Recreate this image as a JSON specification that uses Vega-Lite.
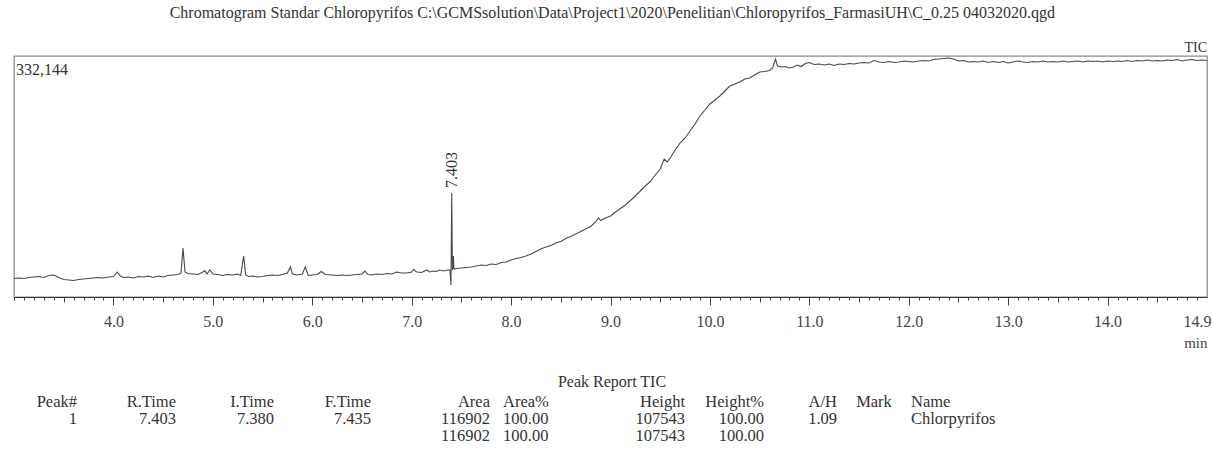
{
  "$schema": "https://vega.github.io/schema/vega-lite/v6.json",
  "background": "white",
  "padding": {"left": 12, "top": 5, "right": 4, "bottom": 4},
  "config": {
    "font": "Liberation Serif",
    "text": {"font": "Liberation Serif", "color": "#333"},
    "title": {"font": "Liberation Serif", "fontWeight": "normal", "color": "#333"}
  },
  "title": {
    "text": "Chromatogram Standar Chloropyrifos C:\\GCMSsolution\\Data\\Project1\\2020\\Penelitian\\Chloropyrifos_FarmasiUH\\C_0.25 04032020.qgd",
    "anchor": "middle", "fontSize": 16, "fontWeight": "normal", "font": "Liberation Serif", "color": "#333", "offset": 19
  },
  "datasets": {
    "chromatogram": [
      {"t":3.00,"v":14529},{"t":3.05,"v":15246},{"t":3.10,"v":14529},{"t":3.15,"v":15963},{"t":3.20,"v":16680},{"t":3.25,"v":17397},{"t":3.30,"v":15963},{"t":3.35,"v":18831},{"t":3.40,"v":19548},{"t":3.45,"v":15963},{"t":3.50,"v":13095},{"t":3.55,"v":12378},{"t":3.60,"v":11661},{"t":3.65,"v":13095},{"t":3.70,"v":13812},{"t":3.75,"v":14529},{"t":3.80,"v":15246},{"t":3.85,"v":15963},{"t":3.90,"v":15246},{"t":3.95,"v":16680},
      {"t":4.00,"v":17397},{"t":4.04,"v":23850},{"t":4.07,"v":18114},{"t":4.10,"v":15963},{"t":4.15,"v":16680},{"t":4.20,"v":15246},{"t":4.25,"v":17397},{"t":4.30,"v":16680},{"t":4.35,"v":18114},{"t":4.40,"v":15963},{"t":4.45,"v":18114},{"t":4.50,"v":16680},{"t":4.55,"v":18831},{"t":4.60,"v":19548},{"t":4.65,"v":20265},{"t":4.68,"v":22416},{"t":4.70,"v":58266},{"t":4.72,"v":23850},{"t":4.75,"v":21699},{"t":4.80,"v":20982},{"t":4.85,"v":20265},{"t":4.90,"v":23850},{"t":4.92,"v":26001},{"t":4.94,"v":20982},{"t":4.97,"v":26718},
      {"t":5.00,"v":20982},{"t":5.05,"v":20265},{"t":5.10,"v":18831},{"t":5.15,"v":20265},{"t":5.20,"v":19548},{"t":5.25,"v":20982},{"t":5.28,"v":18831},{"t":5.31,"v":46794},{"t":5.33,"v":19548},{"t":5.36,"v":17397},{"t":5.40,"v":18114},{"t":5.45,"v":16680},{"t":5.50,"v":17397},{"t":5.55,"v":18831},{"t":5.60,"v":19548},{"t":5.65,"v":18831},{"t":5.70,"v":20265},{"t":5.75,"v":22416},{"t":5.78,"v":31020},{"t":5.80,"v":20982},{"t":5.85,"v":19548},{"t":5.90,"v":20982},{"t":5.93,"v":31020},{"t":5.96,"v":18831},
      {"t":6.00,"v":19548},{"t":6.05,"v":20265},{"t":6.09,"v":24567},{"t":6.13,"v":20265},{"t":6.20,"v":19548},{"t":6.25,"v":18831},{"t":6.30,"v":19548},{"t":6.35,"v":18831},{"t":6.40,"v":19548},{"t":6.45,"v":20265},{"t":6.50,"v":20982},{"t":6.53,"v":25284},{"t":6.56,"v":20265},{"t":6.60,"v":19548},{"t":6.65,"v":20982},{"t":6.70,"v":20265},{"t":6.75,"v":21699},{"t":6.80,"v":20982},{"t":6.85,"v":23850},{"t":6.90,"v":22416},{"t":6.95,"v":22416},
      {"t":7.00,"v":23850},{"t":7.02,"v":27435},{"t":7.05,"v":23850},{"t":7.10,"v":23133},{"t":7.15,"v":26718},{"t":7.18,"v":23850},{"t":7.22,"v":25284},{"t":7.25,"v":24567},{"t":7.28,"v":26718},{"t":7.32,"v":25284},{"t":7.36,"v":26718},{"t":7.385,"v":26718},{"t":7.395,"v":5208},{"t":7.400,"v":84078},{"t":7.403,"v":137136},{"t":7.407,"v":69738},{"t":7.410,"v":26718},{"t":7.415,"v":29586},{"t":7.420,"v":46794},{"t":7.425,"v":29586},{"t":7.43,"v":28152},{"t":7.45,"v":28869},
      {"t":7.50,"v":29586},{"t":7.55,"v":30303},{"t":7.60,"v":31020},{"t":7.65,"v":32454},{"t":7.70,"v":33888},{"t":7.75,"v":33171},{"t":7.80,"v":35322},{"t":7.85,"v":34605},{"t":7.90,"v":37473},{"t":7.95,"v":38190},
      {"t":8.00,"v":41058},{"t":8.05,"v":43209},{"t":8.10,"v":44643},{"t":8.15,"v":46794},{"t":8.20,"v":49662},{"t":8.25,"v":53247},{"t":8.30,"v":56832},{"t":8.35,"v":59700},{"t":8.40,"v":61851},{"t":8.45,"v":65436},{"t":8.50,"v":67587},{"t":8.55,"v":71889},{"t":8.60,"v":74757},{"t":8.65,"v":78342},{"t":8.70,"v":81927},{"t":8.75,"v":85512},{"t":8.80,"v":89097},{"t":8.85,"v":95550},{"t":8.88,"v":101286},{"t":8.90,"v":97701},{"t":8.95,"v":101286},
      {"t":9.00,"v":104154},{"t":9.05,"v":109890},{"t":9.10,"v":114909},{"t":9.15,"v":119928},{"t":9.20,"v":126381},{"t":9.25,"v":132834},{"t":9.30,"v":140004},{"t":9.35,"v":147174},{"t":9.40,"v":153627},{"t":9.45,"v":162948},{"t":9.50,"v":171552},{"t":9.54,"v":185892},{"t":9.57,"v":181590},{"t":9.60,"v":187326},{"t":9.65,"v":198798},{"t":9.70,"v":208836},{"t":9.75,"v":216006},{"t":9.80,"v":226044},{"t":9.85,"v":236082},{"t":9.90,"v":247554},{"t":9.95,"v":256158},
      {"t":10.00,"v":264762},{"t":10.05,"v":270498},{"t":10.10,"v":276234},{"t":10.15,"v":283404},{"t":10.20,"v":290574},{"t":10.25,"v":293442},{"t":10.30,"v":296310},{"t":10.35,"v":300612},{"t":10.40,"v":302046},{"t":10.45,"v":306348},{"t":10.50,"v":310650},{"t":10.55,"v":311367},{"t":10.60,"v":312801},{"t":10.63,"v":316386},{"t":10.66,"v":329292},{"t":10.68,"v":319254},{"t":10.72,"v":317820},{"t":10.76,"v":318537},{"t":10.80,"v":316386},{"t":10.84,"v":317820},{"t":10.88,"v":320688},{"t":10.92,"v":318537},{"t":10.96,"v":322839},
      {"t":11.00,"v":324273},{"t":11.05,"v":321405},{"t":11.10,"v":322122},{"t":11.15,"v":320688},{"t":11.20,"v":322122},{"t":11.25,"v":319971},{"t":11.30,"v":322122},{"t":11.35,"v":321405},{"t":11.40,"v":322839},{"t":11.45,"v":322122},{"t":11.50,"v":323556},{"t":11.55,"v":324273},{"t":11.60,"v":323556},{"t":11.65,"v":327141},{"t":11.70,"v":324990},{"t":11.75,"v":324273},{"t":11.80,"v":325707},{"t":11.85,"v":324273},{"t":11.90,"v":324990},{"t":11.95,"v":326424},
      {"t":12.00,"v":325707},{"t":12.05,"v":324990},{"t":12.10,"v":326424},{"t":12.15,"v":327141},{"t":12.20,"v":326424},{"t":12.25,"v":328575},{"t":12.30,"v":329292},{"t":12.35,"v":330009},{"t":12.40,"v":330726},{"t":12.45,"v":329292},{"t":12.50,"v":326424},{"t":12.55,"v":327141},{"t":12.60,"v":324990},{"t":12.65,"v":325707},{"t":12.70,"v":324990},{"t":12.75,"v":326424},{"t":12.80,"v":324273},{"t":12.85,"v":325707},{"t":12.90,"v":324273},{"t":12.95,"v":325707},
      {"t":13.00,"v":323556},{"t":13.05,"v":324990},{"t":13.10,"v":326424},{"t":13.15,"v":324990},{"t":13.20,"v":324273},{"t":13.25,"v":325707},{"t":13.30,"v":324990},{"t":13.35,"v":326424},{"t":13.40,"v":324990},{"t":13.45,"v":325707},{"t":13.50,"v":324990},{"t":13.55,"v":326424},{"t":13.60,"v":324990},{"t":13.65,"v":325707},{"t":13.70,"v":326424},{"t":13.75,"v":324990},{"t":13.80,"v":326424},{"t":13.85,"v":325707},{"t":13.90,"v":326424},{"t":13.95,"v":324990},
      {"t":14.00,"v":326424},{"t":14.05,"v":325707},{"t":14.10,"v":326424},{"t":14.15,"v":325707},{"t":14.20,"v":327141},{"t":14.25,"v":325707},{"t":14.30,"v":327141},{"t":14.35,"v":326424},{"t":14.40,"v":327858},{"t":14.45,"v":326424},{"t":14.50,"v":327141},{"t":14.55,"v":326424},{"t":14.60,"v":327858},{"t":14.65,"v":327141},{"t":14.70,"v":328575},{"t":14.75,"v":326424},{"t":14.80,"v":327858},{"t":14.85,"v":328575},{"t":14.90,"v":327141},{"t":14.95,"v":327858},{"t":15.00,"v":327141}
    ],
    "peak_report": [
      {"col":"Peak#","row":"header","text":"Peak#"},{"col":"Peak#","row":"r1","text":"1"},
      {"col":"R.Time","row":"header","text":"R.Time"},{"col":"R.Time","row":"r1","text":"7.403"},
      {"col":"I.Time","row":"header","text":"I.Time"},{"col":"I.Time","row":"r1","text":"7.380"},
      {"col":"F.Time","row":"header","text":"F.Time"},{"col":"F.Time","row":"r1","text":"7.435"},
      {"col":"Area","row":"header","text":"Area"},{"col":"Area","row":"r1","text":"116902"},{"col":"Area","row":"r2","text":"116902"},
      {"col":"Area%","row":"header","text":"Area%"},{"col":"Area%","row":"r1","text":"100.00"},{"col":"Area%","row":"r2","text":"100.00"},
      {"col":"Height","row":"header","text":"Height"},{"col":"Height","row":"r1","text":"107543"},{"col":"Height","row":"r2","text":"107543"},
      {"col":"Height%","row":"header","text":"Height%"},{"col":"Height%","row":"r1","text":"100.00"},{"col":"Height%","row":"r2","text":"100.00"},
      {"col":"A/H","row":"header","text":"A/H"},{"col":"A/H","row":"r1","text":"1.09"},
      {"col":"Mark","row":"header","text":"Mark"},
      {"col":"Name","row":"header","text":"Name"},{"col":"Name","row":"r1","text":"Chlorpyrifos"}
    ]
  },
  "bounds": "flush",
  "spacing": 105,
  "vconcat": [
    {
      "width": 1193,
      "height": 241,
      "view": {"stroke": "#8c8c8c", "strokeWidth": 1.3},
      "resolve": {"axis": {"x": "independent"}},
      "layer": [
        {
          "data": {"name": "chromatogram"},
          "mark": {"type": "line", "color": "#4b4552", "strokeWidth": 1.1, "clip": true},
          "encoding": {
            "x": {
              "field": "t", "type": "quantitative",
              "scale": {"domain": [3, 15], "nice": false, "zero": false},
              "axis": {
                "orient": "bottom",
                "values": [4, 5, 6, 7, 8, 9, 10, 11, 12, 13, 14],
                "format": ".1f",
                "tickSize": 8,
                "tickColor": "#444",
                "domainColor": "#333",
                "grid": false,
                "labelOverlap": false,
                "labelFlush": false,
                "labelFont": "Liberation Serif",
                "labelFontSize": 16,
                "labelColor": "#444",
                "labelPadding": 8,
                "title": "min",
                "titleAnchor": "end",
                "titleFont": "Liberation Serif",
                "titleFontSize": 15,
                "titleFontWeight": "normal",
                "titleColor": "#444",
                "titlePadding": 6
              }
            },
            "y": {
              "field": "v", "type": "quantitative",
              "scale": {"domain": [-12000, 333600], "nice": false, "zero": false},
              "axis": null
            }
          }
        },
        {
          "data": {"name": "chromatogram"},
          "transform": [{"filter": "datum.t == 7.403"}],
          "mark": {"type": "text", "angle": 270, "align": "left", "baseline": "middle", "dx": 5, "fontSize": 16, "color": "#333"},
          "encoding": {
            "x": {
              "field": "t", "type": "quantitative",
              "axis": {
                "orient": "bottom",
                "values": [3.0,3.1,3.2,3.3,3.4,3.6,3.7,3.8,3.9,4.1,4.2,4.3,4.4,4.6,4.7,4.8,4.9,5.1,5.2,5.3,5.4,5.6,5.7,5.8,5.9,6.1,6.2,6.3,6.4,6.6,6.7,6.8,6.9,7.1,7.2,7.3,7.4,7.6,7.7,7.8,7.9,8.1,8.2,8.3,8.4,8.6,8.7,8.8,8.9,9.1,9.2,9.3,9.4,9.6,9.7,9.8,9.9,10.1,10.2,10.3,10.4,10.6,10.7,10.8,10.9,11.1,11.2,11.3,11.4,11.6,11.7,11.8,11.9,12.1,12.2,12.3,12.4,12.6,12.7,12.8,12.9,13.1,13.2,13.3,13.4,13.6,13.7,13.8,13.9,14.1,14.2,14.3,14.4,14.6,14.7,14.8,14.9],
                "labelExpr": "datum.value > 14.85 ? '14.9' : ''",
                "tickSize": 3,
                "tickColor": "#444",
                "domain": false,
                "grid": false,
                "labelOverlap": false,
                "labelFlush": false,
                "labelFont": "Liberation Serif",
                "labelFontSize": 16,
                "labelColor": "#444",
                "labelPadding": 13,
                "title": null
              }
            },
            "y": {"field": "v", "type": "quantitative", "axis": null},
            "text": {"field": "t", "type": "quantitative", "format": ".3f"}
          }
        },
        {
          "data": {"values": [{}]},
          "mark": {"type": "text", "align": "left", "baseline": "top", "dx": 2, "dy": 5, "fontSize": 16, "color": "#333"},
          "encoding": {
            "x": {
              "datum": 3, "type": "quantitative",
              "axis": {
                "orient": "bottom",
                "values": [3.5, 4.5, 5.5, 6.5, 7.5, 8.5, 9.5, 10.5, 11.5, 12.5, 13.5, 14.5],
                "labels": false,
                "tickSize": 5,
                "tickColor": "#444",
                "domain": false,
                "grid": false,
                "title": null
              }
            },
            "y": {"datum": 332144, "type": "quantitative", "axis": null},
            "text": {"value": "332,144"}
          }
        },
        {
          "data": {"values": [{}]},
          "mark": {"type": "text", "align": "right", "baseline": "bottom", "dy": -1, "fontSize": 14, "color": "#333"},
          "encoding": {
            "x": {"datum": 15, "type": "quantitative", "axis": null},
            "y": {"datum": 333600, "type": "quantitative", "axis": null},
            "text": {"value": "TIC"}
          }
        }
      ]
    },
    {
      "title": {"text": "Peak Report TIC", "anchor": "middle", "fontSize": 16, "fontWeight": "normal", "font": "Liberation Serif", "color": "#333", "offset": 4},
      "bounds": "flush",
      "spacing": 0,
      "hconcat": [
        {"width": 63, "height": 34, "view": {"stroke": null}, "data": {"name": "peak_report"}, "transform": [{"filter": "datum.col == 'Peak#'"}],
         "mark": {"type": "text", "align": "right", "baseline": "middle", "fontSize": 16.5, "color": "#333"},
         "encoding": {"x": {"value": "width"}, "y": {"field": "row", "type": "ordinal", "axis": null, "scale": {"type": "point", "domain": ["header", "r1", "r2"], "padding": 0}}, "text": {"field": "text"}}},
        {"width": 99, "height": 34, "view": {"stroke": null}, "data": {"name": "peak_report"}, "transform": [{"filter": "datum.col == 'R.Time'"}],
         "mark": {"type": "text", "align": "right", "baseline": "middle", "fontSize": 16.5, "color": "#333"},
         "encoding": {"x": {"value": "width"}, "y": {"field": "row", "type": "ordinal", "axis": null, "scale": {"type": "point", "domain": ["header", "r1", "r2"], "padding": 0}}, "text": {"field": "text"}}},
        {"width": 98, "height": 34, "view": {"stroke": null}, "data": {"name": "peak_report"}, "transform": [{"filter": "datum.col == 'I.Time'"}],
         "mark": {"type": "text", "align": "right", "baseline": "middle", "fontSize": 16.5, "color": "#333"},
         "encoding": {"x": {"value": "width"}, "y": {"field": "row", "type": "ordinal", "axis": null, "scale": {"type": "point", "domain": ["header", "r1", "r2"], "padding": 0}}, "text": {"field": "text"}}},
        {"width": 97, "height": 34, "view": {"stroke": null}, "data": {"name": "peak_report"}, "transform": [{"filter": "datum.col == 'F.Time'"}],
         "mark": {"type": "text", "align": "right", "baseline": "middle", "fontSize": 16.5, "color": "#333"},
         "encoding": {"x": {"value": "width"}, "y": {"field": "row", "type": "ordinal", "axis": null, "scale": {"type": "point", "domain": ["header", "r1", "r2"], "padding": 0}}, "text": {"field": "text"}}},
        {"width": 119, "height": 34, "view": {"stroke": null}, "data": {"name": "peak_report"}, "transform": [{"filter": "datum.col == 'Area'"}],
         "mark": {"type": "text", "align": "right", "baseline": "middle", "fontSize": 16.5, "color": "#333"},
         "encoding": {"x": {"value": "width"}, "y": {"field": "row", "type": "ordinal", "axis": null, "scale": {"type": "point", "domain": ["header", "r1", "r2"], "padding": 0}}, "text": {"field": "text"}}},
        {"width": 76, "height": 34, "view": {"stroke": null}, "data": {"name": "peak_report"}, "transform": [{"filter": "datum.col == 'Area%'"}],
         "mark": {"type": "text", "align": "left", "baseline": "middle", "dx": 13, "fontSize": 16.5, "color": "#333"},
         "encoding": {"x": {"value": 0}, "y": {"field": "row", "type": "ordinal", "axis": null, "scale": {"type": "point", "domain": ["header", "r1", "r2"], "padding": 0}}, "text": {"field": "text"}}},
        {"width": 119, "height": 34, "view": {"stroke": null}, "data": {"name": "peak_report"}, "transform": [{"filter": "datum.col == 'Height'"}],
         "mark": {"type": "text", "align": "right", "baseline": "middle", "fontSize": 16.5, "color": "#333"},
         "encoding": {"x": {"value": "width"}, "y": {"field": "row", "type": "ordinal", "axis": null, "scale": {"type": "point", "domain": ["header", "r1", "r2"], "padding": 0}}, "text": {"field": "text"}}},
        {"width": 79, "height": 34, "view": {"stroke": null}, "data": {"name": "peak_report"}, "transform": [{"filter": "datum.col == 'Height%'"}],
         "mark": {"type": "text", "align": "right", "baseline": "middle", "fontSize": 16.5, "color": "#333"},
         "encoding": {"x": {"value": "width"}, "y": {"field": "row", "type": "ordinal", "axis": null, "scale": {"type": "point", "domain": ["header", "r1", "r2"], "padding": 0}}, "text": {"field": "text"}}},
        {"width": 73, "height": 34, "view": {"stroke": null}, "data": {"name": "peak_report"}, "transform": [{"filter": "datum.col == 'A/H'"}],
         "mark": {"type": "text", "align": "right", "baseline": "middle", "fontSize": 16.5, "color": "#333"},
         "encoding": {"x": {"value": "width"}, "y": {"field": "row", "type": "ordinal", "axis": null, "scale": {"type": "point", "domain": ["header", "r1", "r2"], "padding": 0}}, "text": {"field": "text"}}},
        {"width": 74, "height": 34, "view": {"stroke": null}, "data": {"name": "peak_report"}, "transform": [{"filter": "datum.col == 'Mark'"}],
         "mark": {"type": "text", "align": "center", "baseline": "middle", "fontSize": 16.5, "color": "#333"},
         "encoding": {"y": {"field": "row", "type": "ordinal", "axis": null, "scale": {"type": "point", "domain": ["header", "r1", "r2"], "padding": 0}}, "text": {"field": "text"}}},
        {"width": 299, "height": 34, "view": {"stroke": null}, "data": {"name": "peak_report"}, "transform": [{"filter": "datum.col == 'Name'"}],
         "mark": {"type": "text", "align": "left", "baseline": "middle", "fontSize": 16.5, "color": "#333"},
         "encoding": {"x": {"value": 0}, "y": {"field": "row", "type": "ordinal", "axis": null, "scale": {"type": "point", "domain": ["header", "r1", "r2"], "padding": 0}}, "text": {"field": "text"}}}
      ]
    }
  ]
}
